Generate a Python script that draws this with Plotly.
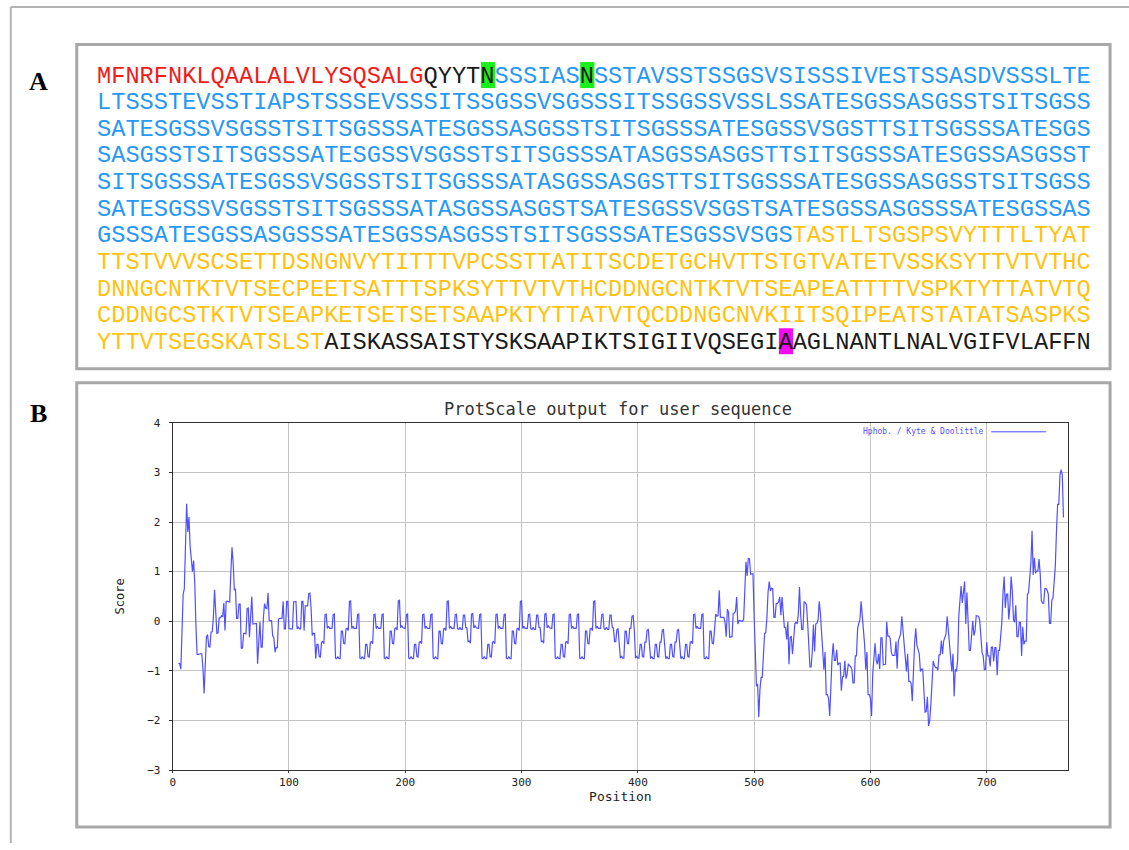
import numpy as np
import plotly.graph_objects as go

W, H = 1129, 850

# ---------------- Panel A data: sequence lines split in coloured segments ----------------
seq_segments = [
    [("MFNRFNKLQAALALVLYSQSALG", "red"), ("QYYT", "black"), ("N", "black"), ("SSSIAS", "blue"),
     ("N", "black"), ("SSTAVSSTSSGSVSISSSIVESTSSASDVSSSLTE", "blue")],
    [("LTSSSTEVSSTIAPSTSSSEVSSSITSSGSSVSGSSSITSSGSSVSSLSSATESGSSASGSSTSITSGSS", "blue")],
    [("SATESGSSVSGSSTSITSGSSSATESGSSASGSSTSITSGSSSATESGSSVSGSTTSITSGSSSATESGS", "blue")],
    [("SASGSSTSITSGSSSATESGSSVSGSSTSITSGSSSATASGSSASGSTTSITSGSSSATESGSSASGSST", "blue")],
    [("SITSGSSSATESGSSVSGSSTSITSGSSSATASGSSASGSTTSITSGSSSATESGSSASGSSTSITSGSS", "blue")],
    [("SATESGSSVSGSSTSITSGSSSATASGSSASGSTSATESGSSVSGSTSATESGSSASGSSSATESGSSAS", "blue")],
    [("GSSSATESGSSASGSSSATESGSSASGSSTSITSGSSSATESGSSVSGS", "blue"), ("TASTLTSGSPSVYTTTLTYAT", "yellow")],
    [("TTSTVVVSCSETTDSNGNVYTITTTVPCSSTTATITSCDETGCHVTTSTGTVATETVSSKSYTTVTVTHC", "yellow")],
    [("DNNGCNTKTVTSECPEETSATTTSPKSYTTVTVTHCDDNGCNTKTVTSEAPEATTTTVSPKTYTTATVTQ", "yellow")],
    [("CDDNGCSTKTVTSEAPKETSETSETSAAPKTYTTATVTQCDDNGCNVKIITSQIPEATSTATATSASPKS", "yellow")],
    [("YTTVTSEGSKATSLST", "yellow"), ("AISKASSAISTYSKSAAPIKTSIGIIVQSEGI", "black"), ("A", "black"),
     ("AGLNANTLNALVGIFVLAFFN", "black")],
]
# highlighted residues: (line, column, colour key)
highlights = [(0, 27, "green"), (0, 34, "green"), (10, 48, "magenta")]

colours = {"red": "#f01c1c", "black": "#1a1a1a", "blue": "#2799f4", "yellow": "#ffc20e",
           "green": "#19f019", "magenta": "#f20cf2"}

# ---------------- Panel B data: Kyte & Doolittle hydropathy scale ----------------
kd_scale = {"A": 1.8, "R": -4.5, "N": -3.5, "D": -3.5, "C": 2.5, "Q": -3.5, "E": -3.5, "G": -0.4,
            "H": -3.2, "I": 4.5, "L": 3.8, "K": -3.9, "M": 1.9, "F": 2.8, "P": -1.6, "S": -0.8,
            "T": -0.7, "W": -0.9, "Y": -1.3, "V": 4.2}
window = 9
x_ticks = [0, 100, 200, 300, 400, 500, 600, 700]
y_ticks = [-3, -2, -1, 0, 1, 2, 3, 4]

sequence = "".join(t for line in seq_segments for t, _ in line)
hyd = np.array([kd_scale[a] for a in sequence])
score = np.convolve(hyd, np.ones(window) / window, mode="valid")
position = np.arange(window // 2 + 1, len(sequence) - window // 2 + 1)


def px(x):
    return ((x - 2.2) / 0.998) / W


def py(y):
    return 1 - ((y - 7.5) / 0.984) / H


fig = go.Figure()
fig.add_trace(go.Scatter(x=position, y=score, mode="lines",
                         line=dict(color="#5050ff", width=1.2),
                         name="Hphob. / Kyte & Doolittle", showlegend=False,
                         hoverinfo="skip"))

shapes = []
annotations = []

# outer frame lines
shapes.append(dict(type="line", xref="paper", yref="paper", x0=px(10), x1=1, y0=py(8.5), y1=py(8.5),
                   line=dict(color="#b4b4b4", width=2)))
shapes.append(dict(type="line", xref="paper", yref="paper", x0=px(10), x1=px(10), y0=0, y1=py(8.5),
                   line=dict(color="#b4b4b4", width=2)))
# panel boxes
for (x0, y0, x1, y1) in [(76, 46, 1110, 370), (76, 384, 1110, 828)]:
    shapes.append(dict(type="rect", xref="paper", yref="paper", x0=px(x0), x1=px(x1), y0=py(y1), y1=py(y0),
                       line=dict(color="#a8a8a8", width=3), fillcolor="rgba(0,0,0,0)", layer="below"))

# panel labels
for lab, y in [("A", 82.5), ("B", 415)]:
    annotations.append(dict(text="<b>" + lab + "</b>", x=px(38), y=py(y), xref="paper", yref="paper",
                            showarrow=False, xanchor="center", yanchor="middle",
                            font=dict(family="Liberation Serif", size=26, color="#000")))

# sequence text
char_w = 14.2
text_x0 = 97
line_y0 = 77.5
line_dy = 26.6
font_size = char_w / 0.6
for (li, ci, ck) in highlights:
    xc = text_x0 + ci * char_w
    yc = line_y0 - 1 + li * line_dy
    shapes.append(dict(type="rect", xref="paper", yref="paper", x0=px(xc), x1=px(xc + char_w),
                       y0=py(yc + 13), y1=py(yc - 13), fillcolor=colours[ck], line=dict(width=0),
                       layer="below"))
for li, segs in enumerate(seq_segments):
    html = "".join('<span style="color:%s">%s</span>' % (colours[c], t) for t, c in segs)
    annotations.append(dict(text=html, x=px(text_x0 - 1), y=py(line_y0 + li * line_dy), xref="paper",
                            yref="paper", showarrow=False, xanchor="left", yanchor="middle",
                            font=dict(family="Liberation Mono", size=font_size, color="#1a1a1a"),
                            borderpad=0, borderwidth=0))

# ProtScale title and legend
annotations.append(dict(text="ProtScale output for user sequence", x=px(618), y=py(410), xref="paper",
                        yref="paper", showarrow=False, xanchor="center", yanchor="middle",
                        font=dict(family="DejaVu Sans Mono", size=17, color="#333")))
annotations.append(dict(text="Hphob. / Kyte & Doolittle", x=px(986), y=py(433), xref="paper",
                        yref="paper", showarrow=False, xanchor="right", yanchor="middle",
                        font=dict(family="DejaVu Sans Mono", size=8, color="#5050ff")))
shapes.append(dict(type="line", xref="paper", yref="paper", x0=px(991), x1=px(1046), y0=py(433), y1=py(433),
                   line=dict(color="#5050ff", width=1)))

axis_font = dict(family="DejaVu Sans Mono", size=11, color="#222")
fig.update_layout(
    width=W, height=H, autosize=False,
    margin=dict(l=0, r=0, t=0, b=0),
    paper_bgcolor="white", plot_bgcolor="white",
    showlegend=False, hovermode=False,
    shapes=shapes, annotations=annotations,
    xaxis=dict(domain=[px(172), px(1068)], range=[0, 770], tickvals=x_ticks,
               showgrid=True, gridcolor="#c4c4c4", gridwidth=1, zeroline=False,
               showline=True, linecolor="#333", linewidth=1, mirror=True,
               ticks="outside", ticklen=2, tickcolor="#333", tickfont=axis_font,
               title=dict(text="Position", font=dict(family="DejaVu Sans Mono", size=13, color="#222"),
                          standoff=0)),
    yaxis=dict(domain=[py(771), py(424)], range=[-3, 4], tickvals=y_ticks,
               showgrid=True, gridcolor="#c4c4c4", gridwidth=1, zeroline=False,
               showline=True, linecolor="#333", linewidth=1, mirror=True,
               ticks="outside", ticklen=3, tickcolor="#333", tickfont=axis_font,
               ticklabelstandoff=6,
               title=dict(text="Score", font=dict(family="DejaVu Sans Mono", size=12, color="#222"),
                          standoff=20)),
)

fig.write_html("out.html", config={"displayModeBar": False},
               post_script="document.body.style.margin='0px';")
